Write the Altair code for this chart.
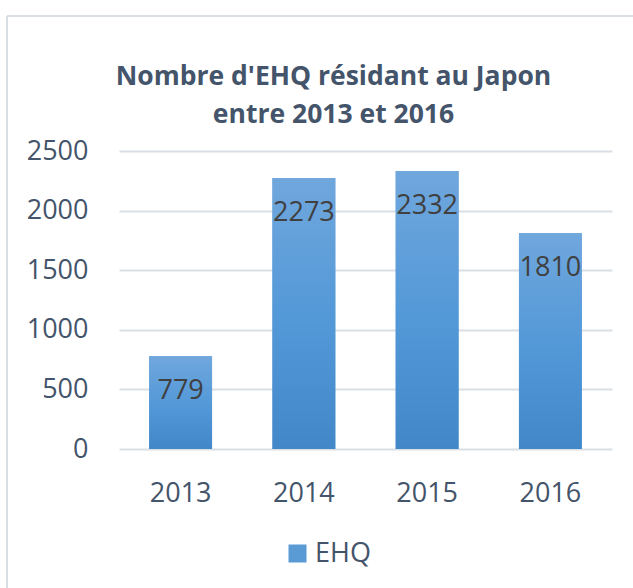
import altair as alt
import pandas as pd

years = ["2013", "2014", "2015", "2016"]
values = [779, 2273, 2332, 1810]
series = ["EHQ", "EHQ", "EHQ", "EHQ"]
y_ticks = [0, 500, 1000, 1500, 2000, 2500]

df = pd.DataFrame({"year": years, "value": values, "series": series})

FONT = "Open Sans"
TXT = "#44546A"

grad = alt.Gradient(
    gradient="linear", x1=0, y1=0, x2=0, y2=1,
    stops=[alt.GradientStop(color="#70A7DD", offset=0),
           alt.GradientStop(color="#5499D8", offset=0.5),
           alt.GradientStop(color="#4287C8", offset=1)],
)

x_enc = alt.X("year:N", sort=years,
              scale=alt.Scale(paddingInner=0.49, paddingOuter=0.245),
              axis=alt.Axis(title=None, labelAngle=0, ticks=False, tickSize=0, domain=False,
                            labelPadding=31, labelFontSize=27, labelFont=FONT,
                            labelColor=TXT, grid=False))
y_enc = alt.Y("value:Q", scale=alt.Scale(domain=[0, 2500], nice=False),
              axis=alt.Axis(title=None, values=y_ticks, format="d", ticks=False, tickSize=0,
                            domain=False, labelPadding=31, labelFontSize=27, labelFont=FONT,
                            labelColor=TXT, grid=True, gridColor="#DADFE6", gridWidth=2))

base = alt.Chart(df).encode(x=x_enc, y=y_enc)

legend_bars = base.mark_bar().encode(
    color=alt.Color("series:N", scale=alt.Scale(range=["#5B9BD5"]),
                    legend=alt.Legend(title=None, orient="none", legendX=165, legendY=389,
                                      symbolType="square", symbolSize=324, symbolStrokeWidth=0,
                                      labelFontSize=27, labelFont=FONT, labelColor=TXT,
                                      padding=0, labelOffset=4))
)
bars = base.mark_bar(color=grad)
labels = base.mark_text(baseline="alphabetic", dy=43, fontSize=27, font=FONT,
                        color="#404040").encode(text="value:Q")

frame_top = alt.Chart(df).mark_rule(color="#D9DEE5", strokeWidth=1.5).encode(
    x=alt.value(-112), x2=alt.value(520), y=alt.value(-135))
frame_left = alt.Chart(df).mark_rule(color="#D9DEE5", strokeWidth=1.5).encode(
    x=alt.value(-112), y=alt.value(-135), y2=alt.value(440))

chart = alt.layer(frame_top, frame_left, legend_bars, bars, labels).properties(
    width=493, height=298,
    title=alt.Title(["Nombre d'EHQ résidant au Japon", "entre 2013 et 2016"],
                    font=FONT, fontSize=26.5, fontWeight="bold", color=TXT,
                    anchor="middle", dx=-32, lineHeight=38, baseline="alphabetic",
                    offset=-134),
    autosize=alt.AutoSizeParams(type="none"),
    padding={"left": 119, "top": 151, "right": 21, "bottom": 139},
    background="white",
).configure_view(stroke=None)

chart.save("out.html", embed_options={"renderer": "svg", "actions": False})
